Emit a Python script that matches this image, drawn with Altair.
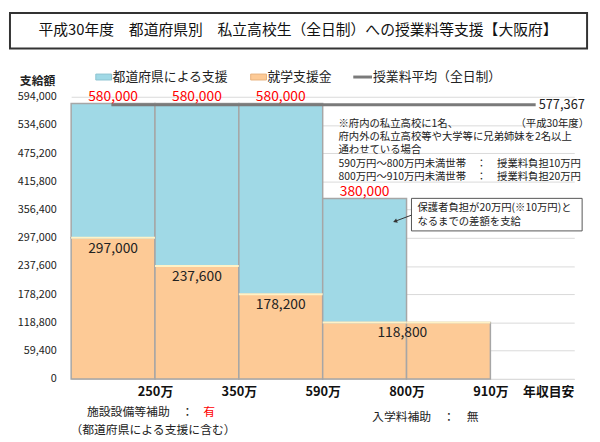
import altair as alt
import pandas as pd

JP = "Noto Sans CJK JP"

# income brackets (upper limits) and support amounts per bracket
x_labels = ["250万", "350万", "590万", "800万", "910万"]
shugaku = [297000, 237600, 178200, 118800, 118800]        # 就学支援金
pref_support = [283000, 342400, 401800, 261200, 0]         # 都道府県による支援
shugaku_label_x = [0.5, 1.5, 2.5, 3.95]
avg_tuition = 577367
avg_span = [0.48, 5.54]
y_ticks = [0, 59400, 118800, 178200, 237600, 297000, 356400,
           415800, 475200, 534600, 594000]

cats = ["都道府県による支援", "就学支援金"]
colors = ["#A0D9E6", "#FDCA96"]

rows = []
for i, (s, p) in enumerate(zip(shugaku, pref_support)):
    rows.append({"start": i, "end": i + 1, "y0": 0, "y1": s, "cat": cats[1]})
    if p > 0:
        rows.append({"start": i, "end": i + 1, "y0": s, "y1": s + p, "cat": cats[0]})
bars_df = pd.DataFrame(rows)

seam_df = pd.DataFrame({"start": range(5), "end": range(1, 6), "v": shugaku})
totals_df = pd.DataFrame({
    "x": [i + 0.5 for i, p in enumerate(pref_support) if p > 0],
    "v": [s + p for s, p in zip(shugaku, pref_support) if p > 0],
})
sh_df = pd.DataFrame({"x": shugaku_label_x, "v": shugaku[:4]})
avg_df = pd.DataFrame({"x": [avg_span[0]], "x2": [avg_span[1]], "v": [avg_tuition]})

x_vals = [1, 2, 3, 4, 5, 5.69]
x_names = x_labels + ["年収目安"]
label_expr = " : ".join(f"datum.value == {v} ? '{t}'" for v, t in zip(x_vals, x_names)) + " : ''"

x_scale = alt.Scale(domain=[0, 6], nice=False, zero=False)
y_scale = alt.Scale(domain=[0, 594000], nice=False)

x_axis = alt.Axis(values=x_vals, labelExpr=label_expr, title=None, grid=False,
                  ticks=False, domainColor="#D9D9D9", labelFontSize=13,
                  labelFontWeight="bold", labelColor="#111", labelPadding=7,
                  labelOverlap=False, labelFlush=False)
y_axis = alt.Axis(values=y_ticks, labelExpr="format(datum.value, ',')", title=None,
                  ticks=False, domain=False, gridColor="#D9D9D9", labelFontSize=11,
                  labelColor="#222", labelPadding=15, labelOverlap=False)


def qx(field):
    return alt.X(field, type="quantitative", scale=x_scale, axis=x_axis)


def qy(field):
    return alt.Y(field, type="quantitative", scale=y_scale, axis=y_axis)


bars = alt.Chart(bars_df).mark_rect(stroke="#A6A6A6", strokeWidth=1.5).encode(
    x=qx("start"), x2="end:Q",
    y=qy("y0"), y2="y1:Q",
    color=alt.Color("cat:N", scale=alt.Scale(domain=cats, range=colors), legend=None),
)

seam = alt.Chart(seam_df).mark_rule(color="#FFF2C6", strokeWidth=2).encode(
    x=qx("start"), x2="end:Q", y=qy("v")
)

avg_line = alt.Chart(avg_df).mark_rule(color="#7A7A7A", strokeWidth=3).encode(
    x=qx("x"), x2="x2:Q", y=qy("v")
)
avg_text = alt.Chart(avg_df).mark_text(
    align="left", baseline="middle", dx=3, fontSize=13, font=JP, color="#222"
).encode(x=qx("x2"), y=qy("v"), text=alt.Text("v:Q", format=","))

totals = alt.Chart(totals_df).mark_text(
    baseline="alphabetic", dy=-2, fontSize=14, font=JP, color="#FF0000"
).encode(x=qx("x"), y=qy("v"), text=alt.Text("v:Q", format=","))

sh_text = alt.Chart(sh_df).mark_text(
    baseline="middle", dy=11, fontSize=14, font=JP, color="#222"
).encode(x=qx("x"), y=qy("v"), text=alt.Text("v:Q", format=","))

one = pd.DataFrame({"a": [0]})
OX, OY = 72, 95  # plot origin on the page


def note(text, px, py, size=10.5, color="#222", align="left", weight="normal"):
    return alt.Chart(one).mark_text(
        text=text, align=align, baseline="middle", fontSize=size, font=JP,
        color=color, fontWeight=weight
    ).encode(x=alt.value(px - OX), y=alt.value(py - OY))


def box(x0, y0, x1, y1, fill="white", stroke="#404040", sw=1):
    return alt.Chart(one).mark_rect(fill=fill, stroke=stroke, strokeWidth=sw).encode(
        x=alt.value(x0 - OX), x2=alt.value(x1 - OX),
        y=alt.value(y0 - OY), y2=alt.value(y1 - OY)
    )


title_box = box(10, 10, 595, 46, stroke="#333333", sw=2)
title = note("平成30年度　都道府県別　私立高校生（全日制）への授業料等支援【大阪府】",
             302, 27, size=15, align="center", color="#111")

legend = [
    box(97, 72, 113, 78, fill=colors[0], stroke="#8CC3D0"),
    note(cats[0], 114, 75, size=13),
    box(254, 72, 270, 78, fill=colors[1], stroke="#E8B27E"),
    note(cats[1], 271, 75, size=13),
    alt.Chart(one).mark_rule(color="#7A7A7A", strokeWidth=3).encode(
        x=alt.value(358 - OX), x2=alt.value(377 - OX), y=alt.value(75 - OY)),
    note("授業料平均（全日制）", 378, 75, size=13),
    note("支給額", 38, 79, size=12, align="center", weight="bold"),
]

notes = [
    note("※府内の私立高校に1名、", 343, 123),
    note("（平成30年度）", 597, 123, align="right"),
    note("府内外の私立高校等や大学等に兄弟姉妹を2名以上", 343, 136),
    note("通わせている場合", 343, 149),
    note("590万円～800万円未満世帯　：　授業料負担10万円", 343, 163),
    note("800万円～910万円未満世帯　：　授業料負担20万円", 343, 176),
]

callout = [
    box(417, 198, 590, 231, stroke="#555555"),
    note("保護者負担が20万円(※10万円)と", 423, 208),
    note("なるまでの差額を支給", 423, 222),
    alt.Chart(one).mark_rule(color="#333", strokeWidth=1).encode(
        x=alt.value(417 - OX), x2=alt.value(401 - OX),
        y=alt.value(215 - OY), y2=alt.value(221 - OY)),
    alt.Chart(one).mark_point(shape="triangle", filled=True, size=22, angle=249,
                              color="#333", opacity=1).encode(
        x=alt.value(401 - OX), y=alt.value(221 - OY)),
]

bottom = [
    note("施設設備等補助　：", 88, 415, size=12),
    note("有", 212, 415, size=12, align="center", color="#FF0000"),
    note("（都道府県による支援に含む）", 155, 433, size=12, align="center"),
    note("入学料補助　：　無", 431, 420, size=12, align="center"),
]

chart = alt.layer(
    bars, seam, avg_line, avg_text, totals, sh_text,
    title_box, title, *legend, *notes, *callout, *bottom
).properties(
    width=510, height=286,
    padding={"left": 64, "top": 87, "right": 18, "bottom": 61},
    autosize=alt.AutoSizeParams(type="none"),
).configure_view(stroke=None).configure_axis(labelFont=JP)

chart.save("out.html", embed_options={"renderer": "svg", "actions": False})
